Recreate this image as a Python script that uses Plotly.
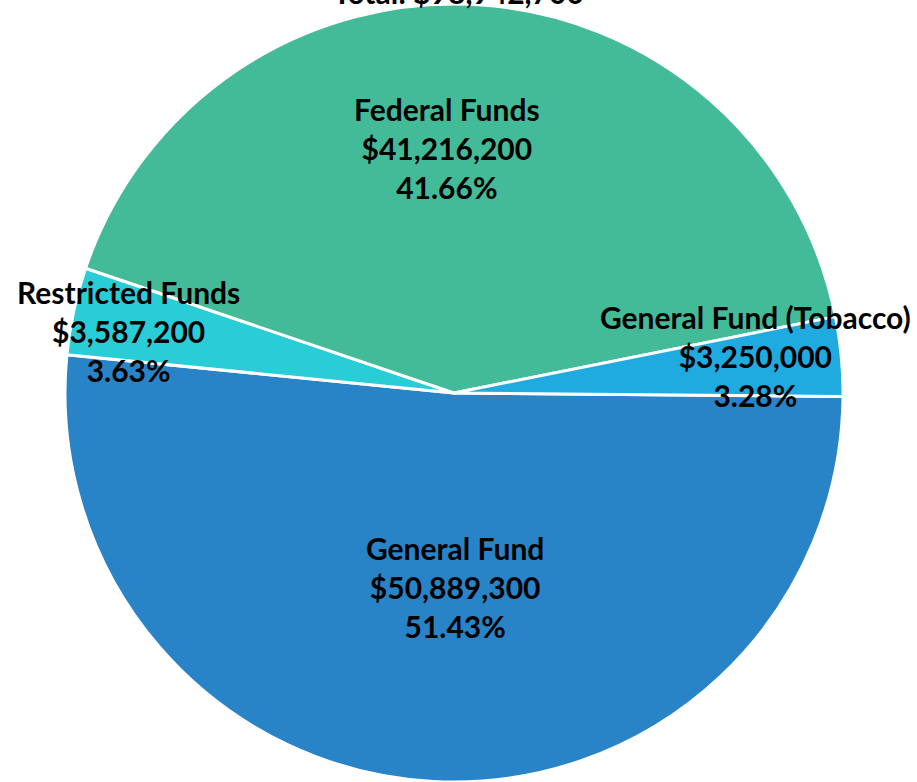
import plotly.graph_objects as go

categories = ["General Fund", "Restricted Funds", "Federal Funds", "General Fund (Tobacco)"]
amounts = [50889300, 3587200, 41216200, 3250000]
percents = ["51.43%", "3.63%", "41.66%", "3.28%"]
colors = ["#2983C7", "#29CDD6", "#44BB98", "#1FAAE0"]
title_text = "Total: $98,942,700"

W, H = 917, 782
cx, cy, r = 454, 393, 389


def px(x):
    return x / W


def py(y):
    return 1 - y / H


fig = go.Figure(go.Pie(
    labels=categories,
    values=amounts,
    sort=False,
    direction="clockwise",
    rotation=90.5,
    marker=dict(colors=colors, line=dict(color="white", width=3)),
    textinfo="none",
    hoverinfo="label+value+percent",
    showlegend=False,
    domain=dict(x=[(cx - r) / W, (cx + r) / W], y=[(H - cy - r) / H, (H - cy + r) / H]),
))

label_pos = [(455, 587), (128, 331), (447, 148), (755, 356)]
font = dict(family="Lato", size=30, color="black", weight="bold")
annotations = []
for cat, amt, pct, (x, y) in zip(categories, amounts, percents, label_pos):
    annotations.append(dict(
        x=px(x), y=py(y), xref="paper", yref="paper",
        xanchor="center", yanchor="middle",
        text=f"{cat}<br>${amt:,}<br>{pct}",
        showarrow=False, align="center", font=font,
    ))
annotations.append(dict(
    x=px(458), y=py(-8), xref="paper", yref="paper",
    xanchor="center", yanchor="middle",
    text=title_text, showarrow=False, font=font,
))

fig.update_layout(
    width=W, height=H,
    margin=dict(l=0, r=0, t=0, b=0),
    paper_bgcolor="white", plot_bgcolor="white",
    annotations=annotations,
)

fig.write_html("out.html", config={"displayModeBar": False},
               post_script="document.body.style.margin='0';")
